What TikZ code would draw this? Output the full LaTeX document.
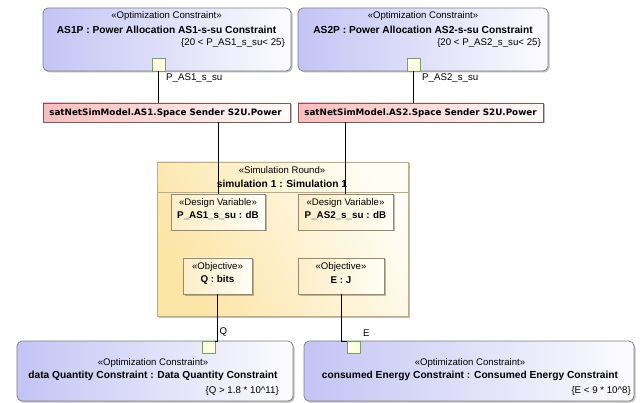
\documentclass[tikz,border=0pt]{standalone}
\usepackage{fontspec}
\setmainfont{Liberation Sans}
\newfontfamily\instfont{DejaVu Sans}
\usetikzlibrary{shadows}

\definecolor{lavL}{RGB}{196,196,245}
\definecolor{lavR}{RGB}{252,252,255}
\definecolor{pinkL}{RGB}{247,190,190}
\definecolor{pinkR}{RGB}{255,250,250}
\definecolor{simL}{RGB}{252,228,166}
\definecolor{simR}{RGB}{255,253,244}
\definecolor{partL}{RGB}{253,238,200}
\definecolor{partR}{RGB}{255,253,245}
\definecolor{portF}{RGB}{255,255,225}
\definecolor{portD}{RGB}{120,158,105}
\definecolor{cBorder}{RGB}{125,125,125}
\definecolor{pBorder}{RGB}{125,90,90}
\definecolor{sBorder}{RGB}{185,172,140}

\tikzset{
  box/.style={inner sep=0pt, outer sep=0pt, anchor=north west},
  shadowed/.style={drop shadow={shadow xshift=1.5pt, shadow yshift=-1.5pt, fill=black, opacity=.25}},
  constr/.style={box, shadowed, draw=cBorder, line width=0.7pt, rounded corners=5pt,
    left color=lavL, right color=lavR},
  inst/.style={box, shadowed, draw=pBorder, line width=0.7pt, left color=pinkL, right color=pinkR},
  simbox/.style={box, shadowed, draw=sBorder, line width=0.8pt, left color=simL, right color=simR,
    shading angle=120},
  part/.style={box, shadowed, draw=sBorder!80!black, line width=0.7pt, left color=partL, right color=partR},
  port/.style={box, draw=portD, line width=0.7pt, fill=portF, minimum width=13pt, minimum height=13pt},
  stereo/.style={inner sep=0pt, font=\fontsize{9.6}{10}\selectfont},
  title/.style={inner sep=0pt, font=\fontsize{10.2}{11}\selectfont\bfseries},
  ptitle/.style={inner sep=0pt, font=\fontsize{9.8}{11}\selectfont\bfseries},
  itext/.style={inner sep=0pt, font=\instfont\fontsize{8.8}{10}\selectfont\bfseries},
  cons/.style={inner sep=0pt, anchor=east, font=\fontsize{9.7}{10}\selectfont},
  plabel/.style={inner sep=0pt, anchor=west, font=\fontsize{9.7}{10}\selectfont},
  wire/.style={draw=black, line width=0.7pt}
}

\begin{document}
\begin{tikzpicture}[x=1pt, y=-1pt]
\useasboundingbox (0,0) rectangle (642,403);

% optimization constraints (top)
\node[constr, minimum width=248pt, minimum height=63pt] (c1) at (43,8) {};
\node[constr, minimum width=250pt, minimum height=63pt] (c2) at (298,8) {};
\node[stereo] (c1s) at (166.5,16.5) {«Optimization Constraint»};
\node[title]  (c1n) at (166.5,29.5) {AS1P : Power Allocation AS1-s-su Constraint};
\node[cons]   (c1c) at (285,43) {\{20 < P\_AS1\_s\_su< 25\}};
\node[stereo] (c2s) at (423,16.5) {«Optimization Constraint»};
\node[title]  (c2n) at (423,29.5) {AS2P : Power Allocation AS2-s-su Constraint};
\node[cons]   (c2c) at (541,43) {\{20 < P\_AS2\_s\_su< 25\}};
\node[port] (p1) at (152,58) {};
\node[port] (p2) at (407,58) {};
\node[plabel] (p1l) at (166,78.5) {P\_AS1\_s\_su};
\node[plabel] (p2l) at (422,78.5) {P\_AS2\_s\_su};

% property instances
\node[inst, minimum width=247pt, minimum height=19pt] (v1) at (43,103) {};
\node[inst, minimum width=245pt, minimum height=19pt] (v2) at (298,103) {};
\node[itext] (v1t) at (165.5,112.6) {satNetSimModel.AS1.Space Sender S2U.Power};
\node[itext] (v2t) at (420.5,112.6) {satNetSimModel.AS2.Space Sender S2U.Power};

% simulation round
\node[simbox, minimum width=251pt, minimum height=154pt] (sim) at (157,162) {};
\coordinate (hl) at (157,192);
\coordinate (hr) at (408,192);
\draw[draw=sBorder, line width=0.8pt] (hl) -- (hr);
\node[stereo] (sims) at (282,170) {«Simulation Round»};
\node[title] (simn) at (282,183.5) {simulation 1 : Simulation 1};

\node[part, minimum width=94pt, minimum height=36pt] (d1) at (171,194) {};
\node[part, minimum width=95pt, minimum height=36pt] (d2) at (298,194) {};
\node[stereo] (d1s) at (218,203) {«Design Variable»};
\node[ptitle] (d1n) at (218,216) {P\_AS1\_s\_su : dB};
\node[stereo] (d2s) at (345.5,203) {«Design Variable»};
\node[ptitle] (d2n) at (345.5,216) {P\_AS2\_s\_su : dB};

\node[part, minimum width=69pt, minimum height=36pt] (o1) at (183,258) {};
\node[part, minimum width=86pt, minimum height=36pt] (o2) at (298,258) {};
\node[stereo] (o1s) at (217.5,267) {«Objective»};
\node[ptitle] (o1n) at (217.5,280) {Q : bits};
\node[stereo] (o2s) at (341,267) {«Objective»};
\node[ptitle] (o2n) at (341,280) {E : J};

% optimization constraints (bottom)
\node[constr, minimum width=276pt, minimum height=60pt] (c3) at (17,341) {};
\node[constr, minimum width=330pt, minimum height=60pt] (c4) at (304,341) {};
\node[stereo] (c3s) at (153,363) {«Optimization Constraint»};
\node[title]  (c3n) at (153,375.5) {data Quantity Constraint : Data Quantity Constraint};
\node[cons]   (c3c) at (279,391) {\{Q > 1.8 * 10\^{}11\}};
\node[stereo] (c4s) at (470,363) {«Optimization Constraint»};
\node[title]  (c4n) at (470,375.5) {consumed Energy Constraint : Consumed Energy Constraint};
\node[cons]   (c4c) at (631,391) {\{E < 9 * 10\^{}8\}};
\node[port, minimum height=12pt] (p3) at (202,341) {};
\node[port, minimum height=12pt] (p4) at (347,341) {};
\node[plabel] (p3l) at (219.5,332) {Q};
\node[plabel] (p4l) at (363,333) {E};

% binding connectors
\draw[wire] (p1.south) -- (p1.south |- v1.north);
\draw[wire] (p2.south) -- (p2.south |- v2.north);
\draw[wire] (d1.north) -- (d1.north |- v1.south);
\draw[wire] (d2.north) -- (d2.north |- v2.south);
\draw[wire] (o1.south) |- (p3.north east);
\draw[wire] (o2.south) |- (p4.north west);
\end{tikzpicture}
\end{document}
